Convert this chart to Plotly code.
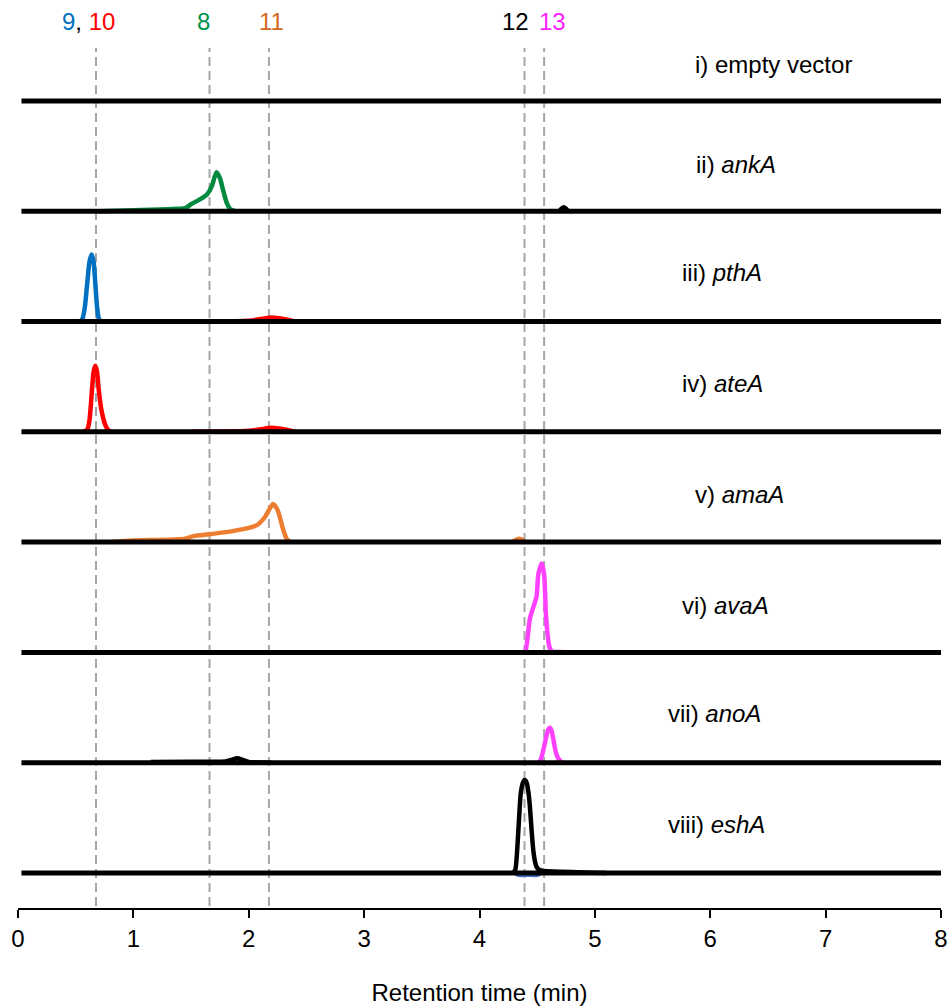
import plotly.graph_objects as go

# ---------------- data (retention time in min, signal in relative units) ----------------
t_start, t_end = 0.03, 8.0

panel_labels = ["i) empty vector", "ii) <i>ankA</i>", "iii) <i>pthA</i>", "iv) <i>ateA</i>",
                "v) <i>amaA</i>", "vi) <i>avaA</i>", "vii) <i>anoA</i>", "viii) <i>eshA</i>"]

# reference retention times (dashed lines) and compound labels
ref_times = [0.676, 1.66, 2.175, 4.39, 4.56]
cmpd_label_t = [0.61, 1.61, 2.2, 4.31, 4.63]
cmpd_labels = ["<span style='color:#0070C0'>9</span>, <span style='color:#FF0000'>10</span>",
               "8", "11", "12", "13"]
cmpd_label_colors = ["#000000", "#00914A", "#D2691E", "#000000", "#FF1FFF"]

# ii) ankA  (compound 8, green)
ankA_t = [0.7, 1.0, 1.3, 1.45, 1.5, 1.58, 1.64, 1.68, 1.72, 1.75, 1.78, 1.81, 1.84, 1.88]
ankA_h = [0, 1, 2, 3, 7, 12, 17, 25, 39, 33, 20, 8, 2, 0]
ankA_bg_t = [4.69, 4.71, 4.73, 4.75, 4.77]
ankA_bg_h = [0, 2.5, 4, 2.5, 0]

# iii) pthA (compound 9, blue)
pthA_t = [0.54, 0.56, 0.58, 0.60, 0.62, 0.638, 0.655, 0.67, 0.685, 0.70, 0.72]
pthA_h = [0, 3, 15, 38, 60, 67, 60, 38, 15, 3, 0]
pthA_minor_t = [1.6, 2.0, 2.1, 2.2, 2.3, 2.4]
pthA_minor_h = [0, 0.8, 2.5, 4, 2.5, 0]

# iv) ateA (compound 10, red)
ateA_t = [0.56, 0.60, 0.62, 0.64, 0.655, 0.67, 0.685, 0.70, 0.72, 0.74, 0.76, 0.78, 0.81]
ateA_h = [0, 2, 12, 40, 60, 66, 60, 42, 24, 13, 6, 2, 0]
ateA_minor_t = [1.5, 2.0, 2.1, 2.2, 2.3, 2.4]
ateA_minor_h = [0, 1, 2.5, 4, 2.5, 0]

# v) amaA (compound 11, orange)
amaA_t = [0.8, 1.0, 1.45, 1.52, 1.67, 1.86, 2.07, 2.14, 2.21, 2.25, 2.30, 2.33, 2.36]
amaA_h = [0, 1.5, 3.5, 6, 8, 11, 17, 25, 38, 32, 12, 3, 0]
amaA_minor_t = [4.28, 4.33, 4.36, 4.40]
amaA_minor_h = [0, 3, 3, 0]

# vi) avaA (compound 13, magenta)
avaA_t = [4.38, 4.40, 4.437, 4.48, 4.495, 4.51, 4.538, 4.56, 4.575, 4.59, 4.605, 4.625, 4.7, 4.8]
avaA_h = [0, 2, 34, 50, 56, 78, 89, 78, 40, 18, 6, 1, 0.5, 0]

# vii) anoA (compound 13, magenta; small black peak at 1.9)
anoA_t = [4.51, 4.53, 4.55, 4.575, 4.595, 4.61, 4.625, 4.645, 4.665, 4.69, 4.72]
anoA_h = [0, 3, 11, 24, 33, 35, 32, 20, 9, 3, 0]
anoA_bg_t = [1.15, 1.5, 1.8, 1.85, 1.9, 1.95, 2.0, 2.2]
anoA_bg_h = [0.8, 1, 1.2, 2.8, 4.5, 2.8, 0.8, 0]

# viii) eshA (compound 12, black; faint blue beneath)
eshA_t = [4.29, 4.31, 4.337, 4.357, 4.375, 4.393, 4.41, 4.425, 4.437, 4.452, 4.466, 4.48,
          4.495, 4.52, 4.56, 4.7, 4.9, 5.1]
eshA_h = [0, 3, 43, 79, 90, 93, 90, 80, 66, 42, 23, 12, 6, 3, 2, 1.2, 0.6, 0]
eshA_minor_t = [4.31, 4.34, 4.42, 4.5, 4.53]
eshA_minor_h = [0, -1.8, -1.8, -1.8, 0]

# panel index -> peak segments (colour, t, h); black segments are drawn on top of the baseline
segments = {
    1: [("#008A3E", ankA_t, ankA_h), ("#000000", ankA_bg_t, ankA_bg_h)],
    2: [("#FF0000", pthA_minor_t, pthA_minor_h), ("#0070C0", pthA_t, pthA_h)],
    3: [("#FF0000", ateA_minor_t, ateA_minor_h), ("#FF0000", ateA_t, ateA_h)],
    4: [("#ED7D31", amaA_t, amaA_h), ("#ED7D31", amaA_minor_t, amaA_minor_h)],
    5: [("#FF40FF", avaA_t, avaA_h)],
    6: [("#FF40FF", anoA_t, anoA_h), ("#000000", anoA_bg_t, anoA_bg_h)],
    7: [("#4472C4", eshA_minor_t, eshA_minor_h), ("#000000", eshA_t, eshA_h)],
}

# ---------------- layout geometry ----------------
W, H = 948, 1006
m_l, m_r, m_t, m_b = 18, 7, 40, 98
plot_h = H - m_t - m_b
step = 110.3
base0 = 35.0  # baseline of the lowest panel


def offset(i):
    return base0 + (7 - i) * step


fig = go.Figure()


def add_line(xs, ys, color, width, shape):
    fig.add_trace(go.Scatter(x=xs, y=ys, mode="lines",
                             line=dict(color=color, width=width, shape=shape, smoothing=0.6),
                             hoverinfo="skip", showlegend=False))


for i in range(8):
    off = offset(i)
    segs = segments.get(i, [])
    # coloured peaks (under the black baseline)
    for color, t, h in segs:
        if color != "#000000":
            add_line(list(t), [off + v for v in h], color, 4.5, "spline")
    # black baseline
    add_line([t_start, t_end], [off, off], "#000000", 5, "linear")
    # black peaks
    for color, t, h in segs:
        if color == "#000000":
            add_line(list(t), [off + v for v in h], color, 4.5, "spline")

# dashed reference lines
for rt in ref_times:
    fig.add_shape(type="line", xref="x", yref="y", x0=rt, x1=rt, y0=2, y1=860,
                  line=dict(color="#A6A6A6", width=2, dash="9px,5px"), layer="below")

font_family = "Liberation Sans, Arial, sans-serif"
fs = 24

# compound labels at top
for t, lab, col in zip(cmpd_label_t, cmpd_labels, cmpd_label_colors):
    fig.add_annotation(x=t, xref="x", y=(plot_h + m_t - 22) / plot_h, yref="paper",
                       text=lab, showarrow=False, xanchor="center", yanchor="middle",
                       font=dict(size=fs, color=col, family=font_family))

# panel labels
label_x = [5.85, 5.86, 5.74, 5.74, 5.85, 5.74, 5.62, 5.62]
label_dy = [36, 47, 49, 48, 48, 47, 49, 49]
for i, lab in enumerate(panel_labels):
    fig.add_annotation(x=label_x[i], xref="x", y=offset(i) + label_dy[i], yref="y",
                       text=lab, showarrow=False, xanchor="left", yanchor="middle",
                       font=dict(size=fs, color="#000000", family=font_family))

fig.update_layout(
    width=W, height=H,
    margin=dict(l=m_l, r=m_r, t=m_t, b=m_b, autoexpand=False),
    plot_bgcolor="white", paper_bgcolor="white",
    font=dict(family=font_family, size=fs, color="#000000"),
    xaxis=dict(range=[0, 8], dtick=1, tick0=0, showgrid=False, zeroline=False,
               automargin=False,
               showline=True, linecolor="#000000", linewidth=2,
               ticks="outside", ticklen=8, tickwidth=2, tickcolor="#000000",
               tickfont=dict(size=fs, family=font_family),
               title=dict(text="Retention time (min)", standoff=35,
                          font=dict(size=fs, family=font_family))),
    yaxis=dict(range=[0, plot_h], visible=False, fixedrange=True, automargin=False),
)

fig.write_html("out.html")
